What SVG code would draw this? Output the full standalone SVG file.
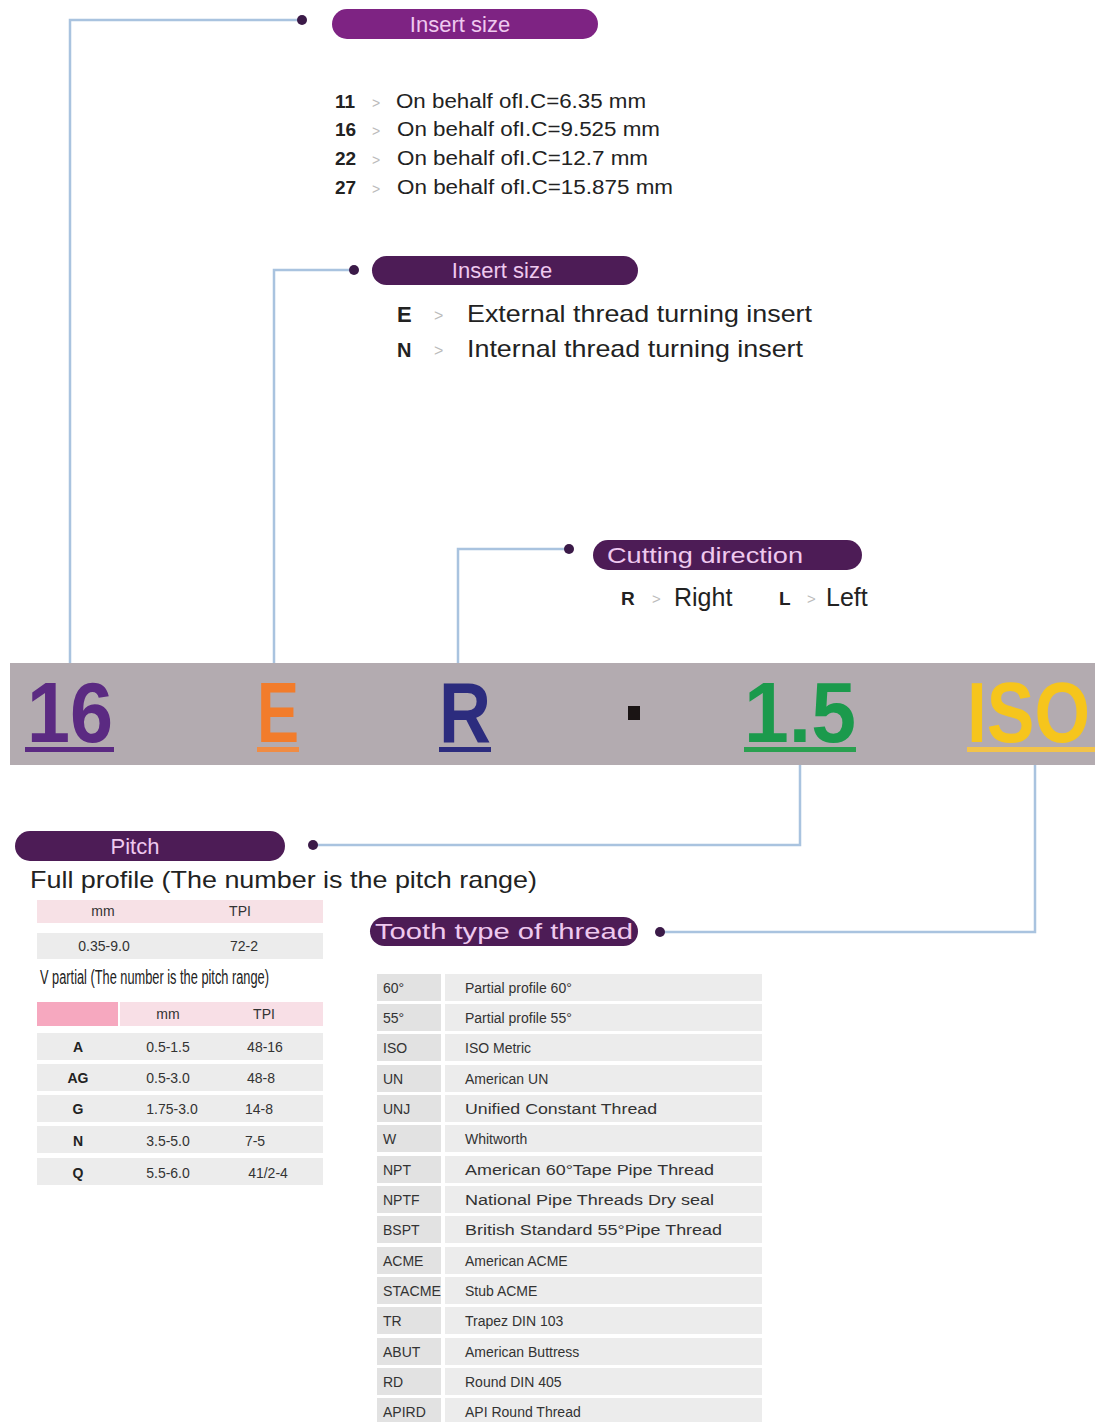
<svg xmlns="http://www.w3.org/2000/svg" width="1095" height="1422" viewBox="0 0 1095 1422">
  <style>
    .lead { fill: none; stroke: #a9c3df; stroke-width: 2.5; }
    .dot { fill: #3b1a48; }
    .pill { fill: #4d1c56; }
    .pill-hot { fill: #7e2383; }
    .pill-text { font-family: "Liberation Sans", Arial, sans-serif; font-size: 22px; fill: #efc9ef; }
    .body { font-family: "Liberation Sans", Arial, sans-serif; fill: #222; }
    .code { font-family: "Liberation Sans", Arial, sans-serif; font-weight: bold; fill: #222; }
    .sep { font-family: "Liberation Sans", Arial, sans-serif; fill: #bbb; }
    .big { font-family: "Liberation Sans", Arial, sans-serif; font-weight: bold; font-size: 86px; }
    .cell { font-family: "Liberation Sans", Arial, sans-serif; font-size: 14px; fill: #333; }
    .cellb { font-family: "Liberation Sans", Arial, sans-serif; font-size: 14px; font-weight: bold; fill: #222; }
    .rowbg { fill: #ececec; }
    .rowbg2 { fill: #e2e2e2; }
  </style>

  <rect width="1095" height="1422" fill="#ffffff"/>

  <!-- leader lines from the code letters to their callouts -->
  <g id="connectors">
    <polyline class="lead" points="70,665 70,20 300,20"/>
    <polyline class="lead" points="274,665 274,270 352,270"/>
    <polyline class="lead" points="458,665 458,549 567,549"/>
    <polyline class="lead" points="800,765 800,845 315,845"/>
    <polyline class="lead" points="1035,765 1035,932 662,932"/>
    <circle class="dot" cx="302" cy="20" r="5"/>
    <circle class="dot" cx="354" cy="270" r="5"/>
    <circle class="dot" cx="569" cy="549" r="5"/>
    <circle class="dot" cx="313" cy="845" r="5"/>
    <circle class="dot" cx="660" cy="932" r="5"/>
  </g>

  <!-- insert size (inscribed circle) -->
  <g id="insert-size">
    <rect class="pill-hot" x="332" y="9" width="266" height="30" rx="15"/>
    <text class="pill-text" x="460" y="32" text-anchor="middle">Insert size</text>
    <g class="body" font-size="20">
      <text class="code" x="335" y="108" font-size="19">11</text>
      <text class="sep" x="372" y="108" font-size="14">&gt;</text>
      <text x="396" y="108" textLength="250" lengthAdjust="spacingAndGlyphs">On behalf ofI.C=6.35 mm</text>
      <text class="code" x="335" y="136" font-size="19">16</text>
      <text class="sep" x="372" y="136" font-size="14">&gt;</text>
      <text x="397" y="136" textLength="263" lengthAdjust="spacingAndGlyphs">On behalf ofI.C=9.525 mm</text>
      <text class="code" x="335" y="165" font-size="19">22</text>
      <text class="sep" x="372" y="165" font-size="14">&gt;</text>
      <text x="397" y="165" textLength="251" lengthAdjust="spacingAndGlyphs">On behalf ofI.C=12.7 mm</text>
      <text class="code" x="335" y="194" font-size="19">27</text>
      <text class="sep" x="372" y="194" font-size="14">&gt;</text>
      <text x="397" y="194" textLength="276" lengthAdjust="spacingAndGlyphs">On behalf ofI.C=15.875 mm</text>
    </g>
  </g>

  <!-- insert type -->
  <g id="insert-type">
    <rect class="pill" x="372" y="256" width="266" height="29" rx="14.5"/>
    <text class="pill-text" x="502" y="278" text-anchor="middle">Insert size</text>
    <text class="code" x="397" y="322" font-size="22">E</text>
    <text class="sep" x="434" y="321" font-size="16">&gt;</text>
    <text class="body" x="467" y="322" font-size="24" textLength="345" lengthAdjust="spacingAndGlyphs">External thread turning insert</text>
    <text class="code" x="397" y="357" font-size="20">N</text>
    <text class="sep" x="434" y="356" font-size="16">&gt;</text>
    <text class="body" x="467" y="357" font-size="24" textLength="336" lengthAdjust="spacingAndGlyphs">Internal thread turning insert</text>
  </g>

  <!-- cutting direction -->
  <g id="cutting-direction">
    <rect class="pill" x="593" y="540" width="269" height="30" rx="15"/>
    <text class="pill-text" x="607" y="563" textLength="196" lengthAdjust="spacingAndGlyphs">Cutting direction</text>
    <text class="code" x="621" y="605" font-size="19">R</text>
    <text class="sep" x="652" y="604" font-size="15">&gt;</text>
    <text class="body" x="674" y="606" font-size="25">Right</text>
    <text class="code" x="779" y="605" font-size="19">L</text>
    <text class="sep" x="807" y="604" font-size="15" fill="#e6a0a8">&gt;</text>
    <text class="body" x="826" y="606" font-size="25">Left</text>
  </g>

  <!-- designation bar -->
  <g id="designation">
    <rect x="10" y="663" width="1085" height="102" fill="#b3abb0"/>
    <text class="big" x="27" y="742" fill="#5b2a82" textLength="86" lengthAdjust="spacingAndGlyphs">16</text>
    <rect x="25" y="747" width="89" height="5" fill="#5b2a82"/>
    <text class="big" x="257" y="742" fill="#f27c2b" textLength="42" lengthAdjust="spacingAndGlyphs">E</text>
    <rect x="257" y="747" width="42" height="5" fill="#f08c44"/>
    <text class="big" x="439" y="742" fill="#2c2c7e" textLength="52" lengthAdjust="spacingAndGlyphs">R</text>
    <rect x="439" y="747" width="52" height="5" fill="#2c2c7e"/>
    <rect x="628" y="706" width="12" height="14" fill="#1a1414"/>
    <text class="big" x="744" y="742" fill="#1b9a4c" textLength="112" lengthAdjust="spacingAndGlyphs">1.5</text>
    <rect x="744" y="747" width="112" height="5" fill="#2aa050"/>
    <text class="big" fill="#f6c51c" transform="translate(967 742) scale(0.83 1)">ISO</text>
    <rect x="967" y="747" width="128" height="5" fill="#f2c34a"/>
  </g>

  <!-- pitch -->
  <g id="pitch">
    <rect class="pill" x="15" y="831" width="270" height="30" rx="15"/>
    <text class="pill-text" x="135" y="854" text-anchor="middle">Pitch</text>
    <text class="body" x="30" y="888" font-size="24" textLength="507" lengthAdjust="spacingAndGlyphs">Full profile (The number is the pitch range)</text>

    <rect x="37" y="900" width="286" height="23" fill="#f7e1e6"/>
    <text class="cell" x="103" y="916" text-anchor="middle">mm</text>
    <text class="cell" x="240" y="916" text-anchor="middle">TPI</text>
    <rect x="37" y="933" width="286" height="26" fill="#ececec"/>
    <text class="cell" x="104" y="951" text-anchor="middle">0.35-9.0</text>
    <text class="cell" x="244" y="951" text-anchor="middle">72-2</text>

    <text class="body" font-size="20" transform="translate(40 984) scale(0.64 1)">V partial (The number is the pitch range)</text>

    <rect x="37" y="1002" width="81" height="24" fill="#f6a8bf"/>
    <rect x="120" y="1002" width="203" height="24" fill="#f8dfe6"/>
    <text class="cell" x="168" y="1019" text-anchor="middle">mm</text>
    <text class="cell" x="264" y="1019" text-anchor="middle">TPI</text>

    <rect class="rowbg" x="37" y="1033" width="286" height="27"/>
    <rect class="rowbg" x="37" y="1064" width="286" height="27"/>
    <rect class="rowbg" x="37" y="1095" width="286" height="27"/>
    <rect class="rowbg" x="37" y="1126" width="286" height="27"/>
    <rect class="rowbg" x="37" y="1158" width="286" height="27"/>

    <text class="cellb" x="78" y="1052" text-anchor="middle">A</text>
    <text class="cell" x="168" y="1052" text-anchor="middle">0.5-1.5</text>
    <text class="cell" x="265" y="1052" text-anchor="middle">48-16</text>
    <text class="cellb" x="78" y="1083" text-anchor="middle">AG</text>
    <text class="cell" x="168" y="1083" text-anchor="middle">0.5-3.0</text>
    <text class="cell" x="261" y="1083" text-anchor="middle">48-8</text>
    <text class="cellb" x="78" y="1114" text-anchor="middle">G</text>
    <text class="cell" x="172" y="1114" text-anchor="middle">1.75-3.0</text>
    <text class="cell" x="259" y="1114" text-anchor="middle">14-8</text>
    <text class="cellb" x="78" y="1146" text-anchor="middle">N</text>
    <text class="cell" x="168" y="1146" text-anchor="middle">3.5-5.0</text>
    <text class="cell" x="255" y="1146" text-anchor="middle">7-5</text>
    <text class="cellb" x="78" y="1178" text-anchor="middle">Q</text>
    <text class="cell" x="168" y="1178" text-anchor="middle">5.5-6.0</text>
    <text class="cell" x="268" y="1178" text-anchor="middle">41/2-4</text>
  </g>

  <!-- tooth type of thread -->
  <g id="tooth-type">
    <rect class="pill" x="370" y="917" width="268" height="29" rx="14.5"/>
    <text class="pill-text" x="504" y="939" text-anchor="middle" font-family="'Liberation Mono', monospace" textLength="258" lengthAdjust="spacingAndGlyphs">Tooth type of thread</text>

    <g id="tooth-rows">
      <rect class="rowbg2" x="377" y="974" width="64" height="27"/>
      <rect class="rowbg" x="445" y="974" width="317" height="27"/>
      <rect class="rowbg2" x="377" y="1004" width="64" height="27"/>
      <rect class="rowbg" x="445" y="1004" width="317" height="27"/>
      <rect class="rowbg2" x="377" y="1034" width="64" height="27"/>
      <rect class="rowbg" x="445" y="1034" width="317" height="27"/>
      <rect class="rowbg2" x="377" y="1065" width="64" height="27"/>
      <rect class="rowbg" x="445" y="1065" width="317" height="27"/>
      <rect class="rowbg2" x="377" y="1095" width="64" height="27"/>
      <rect class="rowbg" x="445" y="1095" width="317" height="27"/>
      <rect class="rowbg2" x="377" y="1125" width="64" height="27"/>
      <rect class="rowbg" x="445" y="1125" width="317" height="27"/>
      <rect class="rowbg2" x="377" y="1156" width="64" height="27"/>
      <rect class="rowbg" x="445" y="1156" width="317" height="27"/>
      <rect class="rowbg2" x="377" y="1186" width="64" height="27"/>
      <rect class="rowbg" x="445" y="1186" width="317" height="27"/>
      <rect class="rowbg2" x="377" y="1216" width="64" height="27"/>
      <rect class="rowbg" x="445" y="1216" width="317" height="27"/>
      <rect class="rowbg2" x="377" y="1247" width="64" height="27"/>
      <rect class="rowbg" x="445" y="1247" width="317" height="27"/>
      <rect class="rowbg2" x="377" y="1277" width="64" height="27"/>
      <rect class="rowbg" x="445" y="1277" width="317" height="27"/>
      <rect class="rowbg2" x="377" y="1307" width="64" height="27"/>
      <rect class="rowbg" x="445" y="1307" width="317" height="27"/>
      <rect class="rowbg2" x="377" y="1338" width="64" height="27"/>
      <rect class="rowbg" x="445" y="1338" width="317" height="27"/>
      <rect class="rowbg2" x="377" y="1368" width="64" height="27"/>
      <rect class="rowbg" x="445" y="1368" width="317" height="27"/>
      <rect class="rowbg2" x="377" y="1398" width="64" height="24"/>
      <rect class="rowbg" x="445" y="1398" width="317" height="24"/>
    </g>

    <g class="cell" font-size="15">
      <text x="383" y="993">60°</text>
      <text x="465" y="993">Partial profile 60°</text>
      <text x="383" y="1023">55°</text>
      <text x="465" y="1023">Partial profile 55°</text>
      <text x="383" y="1053">ISO</text>
      <text x="465" y="1053">ISO Metric</text>
      <text x="383" y="1084">UN</text>
      <text x="465" y="1084">American UN</text>
      <text x="383" y="1114">UNJ</text>
      <text x="465" y="1114" textLength="192" lengthAdjust="spacingAndGlyphs">Unified Constant Thread</text>
      <text x="383" y="1144">W</text>
      <text x="465" y="1144">Whitworth</text>
      <text x="383" y="1175">NPT</text>
      <text x="465" y="1175" textLength="249" lengthAdjust="spacingAndGlyphs">American 60°Tape Pipe Thread</text>
      <text x="383" y="1205">NPTF</text>
      <text x="465" y="1205" textLength="249" lengthAdjust="spacingAndGlyphs">National Pipe Threads Dry seal</text>
      <text x="383" y="1235">BSPT</text>
      <text x="465" y="1235" textLength="257" lengthAdjust="spacingAndGlyphs">British Standard 55°Pipe Thread</text>
      <text x="383" y="1266">ACME</text>
      <text x="465" y="1266">American ACME</text>
      <text x="383" y="1296" textLength="58" lengthAdjust="spacingAndGlyphs">STACME</text>
      <text x="465" y="1296">Stub ACME</text>
      <text x="383" y="1326">TR</text>
      <text x="465" y="1326">Trapez DIN 103</text>
      <text x="383" y="1357">ABUT</text>
      <text x="465" y="1357">American Buttress</text>
      <text x="383" y="1387">RD</text>
      <text x="465" y="1387">Round DIN 405</text>
      <text x="383" y="1417">APIRD</text>
      <text x="465" y="1417">API Round Thread</text>
    </g>
  </g>
</svg>
